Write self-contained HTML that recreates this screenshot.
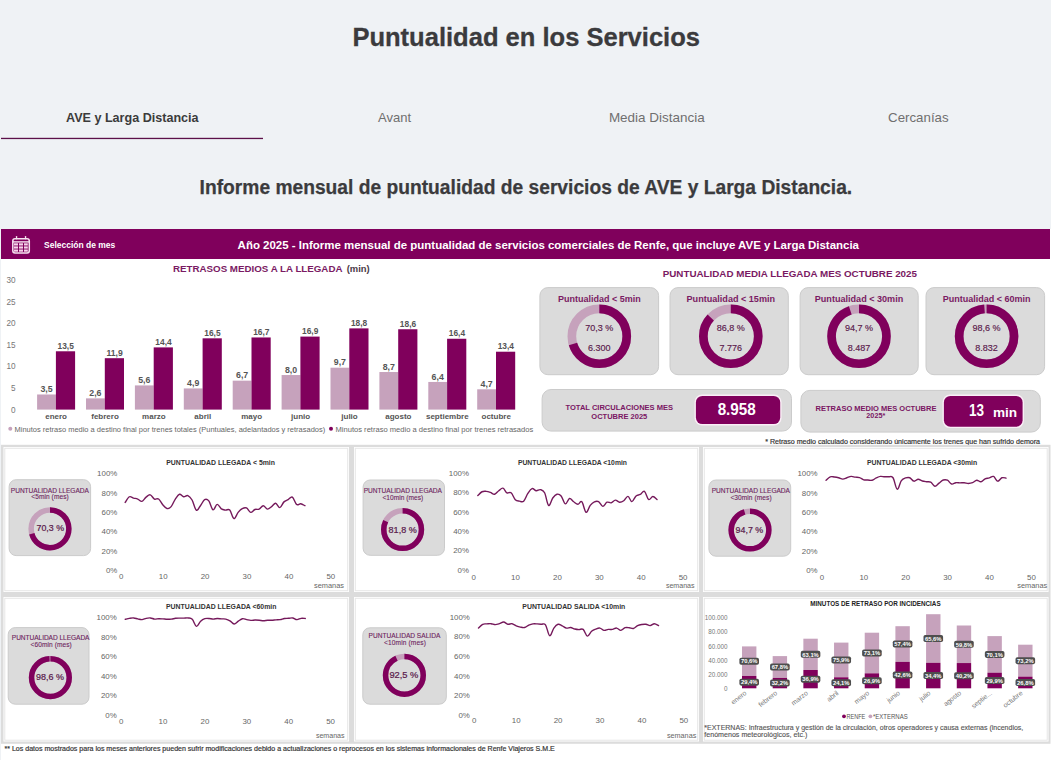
<!DOCTYPE html>
<html><head><meta charset="utf-8"><title>Puntualidad en los Servicios</title>
<style>
html,body{margin:0;padding:0;width:1051px;height:760px;overflow:hidden;background:#eff2f5;}
svg{display:block;font-family:"Liberation Sans", sans-serif;}
</style></head><body>
<svg width="1051" height="760" viewBox="0 0 1051 760" font-family='"Liberation Sans", sans-serif'>
<rect x="0.00" y="0.00" width="1051.00" height="229.00" fill="#eff2f5"/>
<text x="352.40" y="45.80" font-size="26.4" font-weight="bold" fill="#3b3b3d" textLength="347.60" lengthAdjust="spacingAndGlyphs" stroke="#3b3b3d" stroke-width="0.3">Puntualidad en los Servicios</text>
<text x="66.00" y="122.30" font-size="13.5" font-weight="bold" fill="#3b3b3b" textLength="132.60" lengthAdjust="spacingAndGlyphs">AVE y Larga Distancia</text>
<text x="378.00" y="122.00" font-size="13.3" fill="#6f6f6f" textLength="33.10" lengthAdjust="spacingAndGlyphs">Avant</text>
<text x="608.90" y="122.00" font-size="13.3" fill="#6f6f6f" textLength="95.90" lengthAdjust="spacingAndGlyphs">Media Distancia</text>
<text x="888.10" y="122.00" font-size="13.3" fill="#6f6f6f" textLength="60.50" lengthAdjust="spacingAndGlyphs">Cercanías</text>
<rect x="1.00" y="137.80" width="262.00" height="1.30" fill="#5c1049"/>
<text x="199.60" y="193.60" font-size="20" font-weight="bold" fill="#3b3b3d" textLength="652.60" lengthAdjust="spacingAndGlyphs" stroke="#3b3b3d" stroke-width="0.25">Informe mensual de puntualidad de servicios de AVE y Larga Distancia.</text>
<rect x="1.00" y="229.00" width="1050.00" height="531.00" fill="#ffffff"/>
<rect x="1.00" y="229.00" width="1049.00" height="30.00" fill="#80005c"/>
<rect x="12.8" y="238.8" width="16.5" height="14.2" rx="2.2" fill="none" stroke="#f6e4f0" stroke-width="1.5"/>
<rect x="15.9" y="235.9" width="1.3" height="3.4" rx="0.6" fill="#f6e4f0"/><rect x="24.9" y="235.9" width="1.3" height="3.4" rx="0.6" fill="#f6e4f0"/>
<rect x="13" y="241.2" width="16" height="1.4" fill="#f6e4f0"/>
<rect x="14" y="243.30" width="4" height="2.2" fill="#f6d3ea"/>
<rect x="19" y="243.30" width="4" height="2.2" fill="#f6d3ea"/>
<rect x="24" y="243.30" width="3.8" height="2.2" fill="#f6d3ea"/>
<rect x="14" y="246.40" width="4" height="2.2" fill="#f6d3ea"/>
<rect x="19" y="246.40" width="4" height="2.2" fill="#f6d3ea"/>
<rect x="24" y="246.40" width="3.8" height="2.2" fill="#f6d3ea"/>
<rect x="14" y="249.50" width="4" height="2.2" fill="#f6d3ea"/>
<rect x="19" y="249.50" width="4" height="2.2" fill="#f6d3ea"/>
<rect x="24" y="249.50" width="3.8" height="2.2" fill="#f6d3ea"/>
<text x="44.10" y="247.50" font-size="9" font-weight="bold" fill="#ffffff" textLength="71.10" lengthAdjust="spacingAndGlyphs">Selección de mes</text>
<text x="237.60" y="249.00" font-size="11" font-weight="bold" fill="#ffffff" textLength="621.40" lengthAdjust="spacingAndGlyphs">Año 2025 - Informe mensual de puntualidad de servicios comerciales de Renfe, que incluye AVE y Larga Distancia</text>
<text x="173.00" y="272.10" font-size="9" font-weight="bold" fill="#7a1a63" textLength="169.50" lengthAdjust="spacingAndGlyphs">RETRASOS MEDIOS A LA LLEGADA</text>
<text x="346.70" y="272.10" font-size="9" font-weight="bold" fill="#4a3a46" textLength="23.00" lengthAdjust="spacingAndGlyphs">(min)</text>
<text x="15.60" y="412.50" font-size="8.2" fill="#777" text-anchor="end">0</text>
<text x="15.60" y="390.90" font-size="8.2" fill="#777" text-anchor="end">5</text>
<text x="15.60" y="369.30" font-size="8.2" fill="#777" text-anchor="end">10</text>
<text x="15.60" y="347.70" font-size="8.2" fill="#777" text-anchor="end">15</text>
<text x="15.60" y="326.10" font-size="8.2" fill="#777" text-anchor="end">20</text>
<text x="15.60" y="304.50" font-size="8.2" fill="#777" text-anchor="end">25</text>
<text x="15.60" y="282.90" font-size="8.2" fill="#777" text-anchor="end">30</text>
<rect x="37.10" y="394.48" width="18.80" height="15.12" fill="#c6a2bc"/>
<rect x="55.90" y="351.28" width="19.20" height="58.32" fill="#80005c"/>
<text x="40.40" y="392.08" font-size="8.4" font-weight="bold" fill="#555" textLength="12.20" lengthAdjust="spacingAndGlyphs">3,5</text>
<text x="57.55" y="348.88" font-size="8.4" font-weight="bold" fill="#555" textLength="16.30" lengthAdjust="spacingAndGlyphs">13,5</text>
<text x="56.10" y="418.50" font-size="8" font-weight="bold" fill="#555" text-anchor="middle">enero</text>
<rect x="86.00" y="398.37" width="18.80" height="11.23" fill="#c6a2bc"/>
<rect x="104.80" y="358.19" width="19.20" height="51.41" fill="#80005c"/>
<text x="89.30" y="395.97" font-size="8.4" font-weight="bold" fill="#555" textLength="12.20" lengthAdjust="spacingAndGlyphs">2,6</text>
<text x="106.45" y="355.79" font-size="8.4" font-weight="bold" fill="#555" textLength="16.30" lengthAdjust="spacingAndGlyphs">11,9</text>
<text x="105.00" y="418.50" font-size="8" font-weight="bold" fill="#555" text-anchor="middle">febrero</text>
<rect x="134.90" y="385.41" width="18.80" height="24.19" fill="#c6a2bc"/>
<rect x="153.70" y="347.39" width="19.20" height="62.21" fill="#80005c"/>
<text x="138.20" y="383.01" font-size="8.4" font-weight="bold" fill="#555" textLength="12.20" lengthAdjust="spacingAndGlyphs">5,6</text>
<text x="155.35" y="344.99" font-size="8.4" font-weight="bold" fill="#555" textLength="16.30" lengthAdjust="spacingAndGlyphs">14,4</text>
<text x="153.90" y="418.50" font-size="8" font-weight="bold" fill="#555" text-anchor="middle">marzo</text>
<rect x="183.80" y="388.43" width="18.80" height="21.17" fill="#c6a2bc"/>
<rect x="202.60" y="338.32" width="19.20" height="71.28" fill="#80005c"/>
<text x="187.10" y="386.03" font-size="8.4" font-weight="bold" fill="#555" textLength="12.20" lengthAdjust="spacingAndGlyphs">4,9</text>
<text x="204.25" y="335.92" font-size="8.4" font-weight="bold" fill="#555" textLength="16.30" lengthAdjust="spacingAndGlyphs">16,5</text>
<text x="202.80" y="418.50" font-size="8" font-weight="bold" fill="#555" text-anchor="middle">abril</text>
<rect x="232.70" y="380.66" width="18.80" height="28.94" fill="#c6a2bc"/>
<rect x="251.50" y="337.46" width="19.20" height="72.14" fill="#80005c"/>
<text x="236.00" y="378.26" font-size="8.4" font-weight="bold" fill="#555" textLength="12.20" lengthAdjust="spacingAndGlyphs">6,7</text>
<text x="253.15" y="335.06" font-size="8.4" font-weight="bold" fill="#555" textLength="16.30" lengthAdjust="spacingAndGlyphs">16,7</text>
<text x="251.70" y="418.50" font-size="8" font-weight="bold" fill="#555" text-anchor="middle">mayo</text>
<rect x="281.60" y="375.04" width="18.80" height="34.56" fill="#c6a2bc"/>
<rect x="300.40" y="336.59" width="19.20" height="73.01" fill="#80005c"/>
<text x="284.90" y="372.64" font-size="8.4" font-weight="bold" fill="#555" textLength="12.20" lengthAdjust="spacingAndGlyphs">8,0</text>
<text x="302.05" y="334.19" font-size="8.4" font-weight="bold" fill="#555" textLength="16.30" lengthAdjust="spacingAndGlyphs">16,9</text>
<text x="300.60" y="418.50" font-size="8" font-weight="bold" fill="#555" text-anchor="middle">junio</text>
<rect x="330.50" y="367.70" width="18.80" height="41.90" fill="#c6a2bc"/>
<rect x="349.30" y="328.38" width="19.20" height="81.22" fill="#80005c"/>
<text x="333.80" y="365.30" font-size="8.4" font-weight="bold" fill="#555" textLength="12.20" lengthAdjust="spacingAndGlyphs">9,7</text>
<text x="350.95" y="325.98" font-size="8.4" font-weight="bold" fill="#555" textLength="16.30" lengthAdjust="spacingAndGlyphs">18,8</text>
<text x="349.50" y="418.50" font-size="8" font-weight="bold" fill="#555" text-anchor="middle">julio</text>
<rect x="379.40" y="372.02" width="18.80" height="37.58" fill="#c6a2bc"/>
<rect x="398.20" y="329.25" width="19.20" height="80.35" fill="#80005c"/>
<text x="382.70" y="369.62" font-size="8.4" font-weight="bold" fill="#555" textLength="12.20" lengthAdjust="spacingAndGlyphs">8,7</text>
<text x="399.85" y="326.85" font-size="8.4" font-weight="bold" fill="#555" textLength="16.30" lengthAdjust="spacingAndGlyphs">18,6</text>
<text x="398.40" y="418.50" font-size="8" font-weight="bold" fill="#555" text-anchor="middle">agosto</text>
<rect x="428.30" y="381.95" width="18.80" height="27.65" fill="#c6a2bc"/>
<rect x="447.10" y="338.75" width="19.20" height="70.85" fill="#80005c"/>
<text x="431.60" y="379.55" font-size="8.4" font-weight="bold" fill="#555" textLength="12.20" lengthAdjust="spacingAndGlyphs">6,4</text>
<text x="448.75" y="336.35" font-size="8.4" font-weight="bold" fill="#555" textLength="16.30" lengthAdjust="spacingAndGlyphs">16,4</text>
<text x="447.30" y="418.50" font-size="8" font-weight="bold" fill="#555" text-anchor="middle">septiembre</text>
<rect x="477.20" y="389.30" width="18.80" height="20.30" fill="#c6a2bc"/>
<rect x="496.00" y="351.71" width="19.20" height="57.89" fill="#80005c"/>
<text x="480.50" y="386.90" font-size="8.4" font-weight="bold" fill="#555" textLength="12.20" lengthAdjust="spacingAndGlyphs">4,7</text>
<text x="497.65" y="349.31" font-size="8.4" font-weight="bold" fill="#555" textLength="16.30" lengthAdjust="spacingAndGlyphs">13,4</text>
<text x="496.20" y="418.50" font-size="8" font-weight="bold" fill="#555" text-anchor="middle">octubre</text>
<circle cx="10.3" cy="428.8" r="2" fill="#c6a2bc"/>
<text x="14.50" y="431.60" font-size="7.6" fill="#666" textLength="310.70" lengthAdjust="spacingAndGlyphs">Minutos retraso medio a destino final por trenes totales (Puntuales, adelantados y retrasados)</text>
<circle cx="331" cy="428.8" r="2" fill="#80005c"/>
<text x="335.50" y="431.60" font-size="7.6" fill="#666" textLength="197.80" lengthAdjust="spacingAndGlyphs">Minutos retraso medio a destino final por trenes retrasados</text>
<text x="662.70" y="277.10" font-size="9.8" font-weight="bold" fill="#7a1a63" textLength="254.30" lengthAdjust="spacingAndGlyphs">PUNTUALIDAD MEDIA LLEGADA MES OCTUBRE 2025</text>
<rect x="539.90" y="287.60" width="118.70" height="87.10" rx="8" fill="#dbdbdb" stroke="#cbcbcb" stroke-width="1"/>
<text x="557.95" y="301.90" font-size="9" font-weight="bold" fill="#7a1a63" textLength="82.70" lengthAdjust="spacingAndGlyphs">Puntualidad &lt; 5min</text>
<circle cx="599.3" cy="336.3" r="27.45" fill="none" stroke="#c6a2bc" stroke-width="8.70"/>
<circle cx="599.3" cy="336.3" r="27.45" fill="none" stroke="#80005c" stroke-width="8.70" stroke-dasharray="121.25 172.47" transform="rotate(-90 599.3 336.3)"/>
<text x="585.25" y="330.70" font-size="8.6" fill="#5a1a4c" textLength="28.10" lengthAdjust="spacingAndGlyphs" stroke="#5a1a4c" stroke-width="0.15">70,3 %</text>
<text x="588.05" y="350.50" font-size="8.6" fill="#5a1a4c" textLength="22.50" lengthAdjust="spacingAndGlyphs" stroke="#5a1a4c" stroke-width="0.15">6.300</text>
<rect x="670.00" y="287.60" width="118.30" height="87.10" rx="8" fill="#dbdbdb" stroke="#cbcbcb" stroke-width="1"/>
<text x="686.55" y="301.90" font-size="9" font-weight="bold" fill="#7a1a63" textLength="88.50" lengthAdjust="spacingAndGlyphs">Puntualidad &lt; 15min</text>
<circle cx="730.8" cy="336.3" r="27.45" fill="none" stroke="#c6a2bc" stroke-width="8.70"/>
<circle cx="730.8" cy="336.3" r="27.45" fill="none" stroke="#80005c" stroke-width="8.70" stroke-dasharray="149.71 172.47" transform="rotate(-90 730.8 336.3)"/>
<text x="716.75" y="330.70" font-size="8.6" fill="#5a1a4c" textLength="28.10" lengthAdjust="spacingAndGlyphs" stroke="#5a1a4c" stroke-width="0.15">86,8 %</text>
<text x="719.55" y="350.50" font-size="8.6" fill="#5a1a4c" textLength="22.50" lengthAdjust="spacingAndGlyphs" stroke="#5a1a4c" stroke-width="0.15">7.776</text>
<rect x="800.10" y="287.60" width="118.10" height="87.10" rx="8" fill="#dbdbdb" stroke="#cbcbcb" stroke-width="1"/>
<text x="814.75" y="301.90" font-size="9" font-weight="bold" fill="#7a1a63" textLength="88.50" lengthAdjust="spacingAndGlyphs">Puntualidad &lt; 30min</text>
<circle cx="859" cy="336.3" r="27.45" fill="none" stroke="#c6a2bc" stroke-width="8.70"/>
<circle cx="859" cy="336.3" r="27.45" fill="none" stroke="#80005c" stroke-width="8.70" stroke-dasharray="163.33 172.47" transform="rotate(-90 859 336.3)"/>
<text x="844.95" y="330.70" font-size="8.6" fill="#5a1a4c" textLength="28.10" lengthAdjust="spacingAndGlyphs" stroke="#5a1a4c" stroke-width="0.15">94,7 %</text>
<text x="847.75" y="350.50" font-size="8.6" fill="#5a1a4c" textLength="22.50" lengthAdjust="spacingAndGlyphs" stroke="#5a1a4c" stroke-width="0.15">8.487</text>
<rect x="926.00" y="287.60" width="118.60" height="87.10" rx="8" fill="#dbdbdb" stroke="#cbcbcb" stroke-width="1"/>
<text x="942.65" y="301.90" font-size="9" font-weight="bold" fill="#7a1a63" textLength="87.90" lengthAdjust="spacingAndGlyphs">Puntualidad &lt; 60min</text>
<circle cx="986.6" cy="336.3" r="27.45" fill="none" stroke="#c6a2bc" stroke-width="8.70"/>
<circle cx="986.6" cy="336.3" r="27.45" fill="none" stroke="#80005c" stroke-width="8.70" stroke-dasharray="170.06 172.47" transform="rotate(-90 986.6 336.3)"/>
<text x="972.55" y="330.70" font-size="8.6" fill="#5a1a4c" textLength="28.10" lengthAdjust="spacingAndGlyphs" stroke="#5a1a4c" stroke-width="0.15">98,6 %</text>
<text x="975.35" y="350.50" font-size="8.6" fill="#5a1a4c" textLength="22.50" lengthAdjust="spacingAndGlyphs" stroke="#5a1a4c" stroke-width="0.15">8.832</text>
<rect x="542.10" y="389.50" width="249.40" height="41.60" rx="9" fill="#dbdbdb" stroke="#cbcbcb" stroke-width="1"/>
<rect x="694.50" y="394.50" width="87.10" height="31.00" fill="#fbeef7" rx="7.5"/>
<rect x="695.90" y="395.90" width="84.30" height="28.20" fill="#80005c" rx="6.5"/>
<text x="565.55" y="410.00" font-size="8" font-weight="bold" fill="#7a1663" textLength="107.50" lengthAdjust="spacingAndGlyphs">TOTAL CIRCULACIONES MES</text>
<text x="591.35" y="418.50" font-size="8" font-weight="bold" fill="#7a1663" textLength="55.90" lengthAdjust="spacingAndGlyphs">OCTUBRE 2025</text>
<text x="717.65" y="414.90" font-size="15.8" font-weight="bold" fill="#ffffff" textLength="38.10" lengthAdjust="spacingAndGlyphs">8.958</text>
<rect x="800.90" y="390.40" width="239.40" height="41.70" rx="9" fill="#dbdbdb" stroke="#cbcbcb" stroke-width="1"/>
<rect x="942.50" y="394.50" width="81.50" height="33.60" fill="#fbeef7" rx="7.5"/>
<rect x="943.90" y="395.90" width="78.70" height="30.80" fill="#80005c" rx="6.5"/>
<text x="815.60" y="411.00" font-size="8" font-weight="bold" fill="#7a1663" textLength="120.80" lengthAdjust="spacingAndGlyphs">RETRASO MEDIO MES OCTUBRE</text>
<text x="866.35" y="418.40" font-size="8" font-weight="bold" fill="#7a1663" textLength="18.90" lengthAdjust="spacingAndGlyphs">2025*</text>
<text x="969.10" y="415.80" font-size="16" font-weight="bold" fill="#ffffff" textLength="15.00" lengthAdjust="spacingAndGlyphs">13</text>
<text x="992.90" y="416.80" font-size="13" font-weight="bold" fill="#ffffff" textLength="24.20" lengthAdjust="spacingAndGlyphs">min</text>
<text x="765.30" y="443.90" font-size="6.6" fill="#333" textLength="274.70" lengthAdjust="spacingAndGlyphs" stroke="#333" stroke-width="0.18">* Retraso medio calculado considerando únicamente los trenes que han sufrido demora</text>
<rect x="1.00" y="444.80" width="1049.50" height="299.00" fill="#dcdcdc"/>
<rect x="3.50" y="447.00" width="345.50" height="145.00" fill="#ffffff"/>
<rect x="4.80" y="448.30" width="342.90" height="142.40" fill="none" stroke="#e6e6e6" stroke-width="1"/>
<rect x="354.00" y="447.00" width="345.00" height="145.00" fill="#ffffff"/>
<rect x="355.30" y="448.30" width="342.40" height="142.40" fill="none" stroke="#e6e6e6" stroke-width="1"/>
<rect x="703.00" y="447.00" width="345.50" height="145.00" fill="#ffffff"/>
<rect x="704.30" y="448.30" width="342.90" height="142.40" fill="none" stroke="#e6e6e6" stroke-width="1"/>
<rect x="3.50" y="597.00" width="345.50" height="144.50" fill="#ffffff"/>
<rect x="4.80" y="598.30" width="342.90" height="141.90" fill="none" stroke="#e6e6e6" stroke-width="1"/>
<rect x="354.00" y="597.00" width="345.00" height="144.50" fill="#ffffff"/>
<rect x="355.30" y="598.30" width="342.40" height="141.90" fill="none" stroke="#e6e6e6" stroke-width="1"/>
<rect x="703.00" y="597.00" width="345.50" height="144.50" fill="#ffffff"/>
<rect x="704.30" y="598.30" width="342.90" height="141.90" fill="none" stroke="#e6e6e6" stroke-width="1"/>
<rect x="9.10" y="479.70" width="81.50" height="75.90" rx="7" fill="#dbdbdb" stroke="#cbcbcb" stroke-width="1"/>
<text x="10.80" y="492.90" font-size="6.6" fill="#6e1f60" textLength="78.10" lengthAdjust="spacing" stroke="#6e1f60" stroke-width="0.12">PUNTUALIDAD LLEGADA</text>
<text x="31.30" y="499.40" font-size="6.6" fill="#6e1f60" textLength="37.40" lengthAdjust="spacing" stroke="#6e1f60" stroke-width="0.1">&lt;5min (mes)</text>
<circle cx="50" cy="528.8" r="18.85" fill="none" stroke="#c6a2bc" stroke-width="5.50"/>
<circle cx="50" cy="528.8" r="18.85" fill="none" stroke="#80005c" stroke-width="5.50" stroke-dasharray="83.26 118.44" transform="rotate(-90 50 528.8)"/>
<text x="36.50" y="530.60" font-size="9" fill="#5a1a4c" textLength="27.50" lengthAdjust="spacingAndGlyphs" stroke="#5a1a4c" stroke-width="0.22">70,3 %</text>
<rect x="363.10" y="480.00" width="81.40" height="75.30" rx="7" fill="#dbdbdb" stroke="#cbcbcb" stroke-width="1"/>
<text x="363.70" y="492.90" font-size="6.6" fill="#6e1f60" textLength="78.30" lengthAdjust="spacing" stroke="#6e1f60" stroke-width="0.12">PUNTUALIDAD LLEGADA</text>
<text x="382.40" y="499.60" font-size="6.6" fill="#6e1f60" textLength="40.80" lengthAdjust="spacing" stroke="#6e1f60" stroke-width="0.1">&lt;10min (mes)</text>
<circle cx="402.6" cy="529.5" r="18.85" fill="none" stroke="#c6a2bc" stroke-width="5.50"/>
<circle cx="402.6" cy="529.5" r="18.85" fill="none" stroke="#80005c" stroke-width="5.50" stroke-dasharray="96.88 118.44" transform="rotate(-90 402.6 529.5)"/>
<text x="388.60" y="532.60" font-size="9" fill="#5a1a4c" textLength="28.10" lengthAdjust="spacingAndGlyphs" stroke="#5a1a4c" stroke-width="0.22">81,8 %</text>
<rect x="708.90" y="480.00" width="81.80" height="76.20" rx="7" fill="#dbdbdb" stroke="#cbcbcb" stroke-width="1"/>
<text x="711.70" y="492.90" font-size="6.6" fill="#6e1f60" textLength="78.30" lengthAdjust="spacing" stroke="#6e1f60" stroke-width="0.12">PUNTUALIDAD LLEGADA</text>
<text x="730.40" y="499.60" font-size="6.6" fill="#6e1f60" textLength="41.20" lengthAdjust="spacing" stroke="#6e1f60" stroke-width="0.1">&lt;30min (mes)</text>
<circle cx="750" cy="530" r="18.85" fill="none" stroke="#c6a2bc" stroke-width="5.50"/>
<circle cx="750" cy="530" r="18.85" fill="none" stroke="#80005c" stroke-width="5.50" stroke-dasharray="112.16 118.44" transform="rotate(-90 750 530)"/>
<text x="735.60" y="532.60" font-size="9" fill="#5a1a4c" textLength="27.60" lengthAdjust="spacingAndGlyphs" stroke="#5a1a4c" stroke-width="0.22">94,7 %</text>
<rect x="8.20" y="627.60" width="80.80" height="76.60" rx="7" fill="#dbdbdb" stroke="#cbcbcb" stroke-width="1"/>
<text x="11.80" y="639.50" font-size="6.6" fill="#6e1f60" textLength="77.70" lengthAdjust="spacing" stroke="#6e1f60" stroke-width="0.12">PUNTUALIDAD LLEGADA</text>
<text x="30.60" y="646.70" font-size="6.6" fill="#6e1f60" textLength="41.10" lengthAdjust="spacing" stroke="#6e1f60" stroke-width="0.1">&lt;60min (mes)</text>
<circle cx="50.4" cy="677.6" r="18.85" fill="none" stroke="#c6a2bc" stroke-width="5.50"/>
<circle cx="50.4" cy="677.6" r="18.85" fill="none" stroke="#80005c" stroke-width="5.50" stroke-dasharray="116.78 118.44" transform="rotate(-90 50.4 677.6)"/>
<text x="36.10" y="679.80" font-size="9" fill="#5a1a4c" textLength="27.90" lengthAdjust="spacingAndGlyphs" stroke="#5a1a4c" stroke-width="0.22">98,6 %</text>
<rect x="362.80" y="627.80" width="83.50" height="76.40" rx="7" fill="#dbdbdb" stroke="#cbcbcb" stroke-width="1"/>
<text x="368.60" y="637.80" font-size="6.6" fill="#6e1f60" textLength="71.70" lengthAdjust="spacing" stroke="#6e1f60" stroke-width="0.12">PUNTUALIDAD SALIDA</text>
<text x="384.00" y="644.60" font-size="6.6" fill="#6e1f60" textLength="41.90" lengthAdjust="spacing" stroke="#6e1f60" stroke-width="0.1">&lt;10min (mes)</text>
<circle cx="404.4" cy="675.3" r="18.85" fill="none" stroke="#c6a2bc" stroke-width="5.50"/>
<circle cx="404.4" cy="675.3" r="18.85" fill="none" stroke="#80005c" stroke-width="5.50" stroke-dasharray="109.56 118.44" transform="rotate(-90 404.4 675.3)"/>
<text x="389.40" y="678.10" font-size="9" fill="#5a1a4c" textLength="29.00" lengthAdjust="spacingAndGlyphs" stroke="#5a1a4c" stroke-width="0.22">92,5 %</text>
<text x="117.30" y="476.25" font-size="7.9" fill="#666" text-anchor="end">100%</text>
<text x="117.30" y="495.61" font-size="7.9" fill="#666" text-anchor="end">80%</text>
<text x="117.30" y="514.97" font-size="7.9" fill="#666" text-anchor="end">60%</text>
<text x="117.30" y="534.33" font-size="7.9" fill="#666" text-anchor="end">40%</text>
<text x="117.30" y="553.69" font-size="7.9" fill="#666" text-anchor="end">20%</text>
<text x="117.30" y="573.05" font-size="7.9" fill="#666" text-anchor="end">0%</text>
<text x="121.30" y="579.30" font-size="7.9" fill="#666" text-anchor="middle">0</text>
<text x="163.20" y="579.30" font-size="7.9" fill="#666" text-anchor="middle">10</text>
<text x="205.10" y="579.30" font-size="7.9" fill="#666" text-anchor="middle">20</text>
<text x="247.00" y="579.30" font-size="7.9" fill="#666" text-anchor="middle">30</text>
<text x="288.90" y="579.30" font-size="7.9" fill="#666" text-anchor="middle">40</text>
<text x="330.80" y="579.30" font-size="7.9" fill="#666" text-anchor="middle">50</text>
<text x="314.00" y="588.30" font-size="7" fill="#666" textLength="30.00" lengthAdjust="spacingAndGlyphs">semanas</text>
<text x="166.20" y="464.90" font-size="6.5" font-weight="bold" fill="#333" textLength="108.80" lengthAdjust="spacingAndGlyphs">PUNTUALIDAD LLEGADA &lt; 5min</text>
<path d="M125.18,502.45 C125.93,501.43 127.84,497.53 129.35,496.75 C130.85,495.96 132.03,497.67 133.53,498.08 C135.04,498.49 136.21,498.45 137.72,499.03 C139.23,499.61 140.40,501.66 141.91,501.31 C143.41,500.97 144.57,498.29 146.08,497.13 C147.58,495.96 148.75,494.50 150.26,494.84 C151.77,495.19 152.94,498.28 154.45,499.03 C155.95,499.78 157.11,498.00 158.62,499.03 C160.12,500.06 161.29,503.03 162.80,504.74 C164.31,506.45 165.48,508.20 166.99,508.54 C168.49,508.89 169.66,508.35 171.16,506.64 C172.66,504.93 173.82,501.26 175.32,499.03 C176.83,496.80 178.00,494.68 179.51,494.27 C181.02,493.86 182.19,496.51 183.70,496.75 C185.20,496.99 186.38,495.02 187.88,495.60 C189.39,496.19 190.56,497.38 192.07,499.98 C193.58,502.58 194.75,509.04 196.26,510.07 C197.76,511.09 198.94,507.57 200.44,505.69 C201.95,503.81 203.12,500.46 204.63,499.60 C206.14,498.74 207.31,499.08 208.82,500.93 C210.32,502.78 211.49,509.26 213.00,509.88 C214.51,510.49 215.68,504.53 217.19,504.36 C218.70,504.19 219.87,507.90 221.37,508.92 C222.88,509.95 224.05,509.86 225.56,510.07 C227.07,510.27 228.24,508.53 229.75,510.07 C231.25,511.61 232.43,518.22 233.93,518.63 C235.44,519.04 236.61,514.17 238.12,512.35 C239.63,510.53 240.80,509.33 242.31,508.54 C243.81,507.76 244.99,507.29 246.49,507.97 C248.00,508.66 249.17,512.08 250.68,512.35 C252.19,512.62 253.36,510.08 254.87,509.50 C256.37,508.91 257.55,509.80 259.05,509.12 C260.56,508.43 261.73,505.69 263.24,505.69 C264.75,505.69 265.92,508.94 267.43,509.12 C268.93,509.29 270.14,507.70 271.61,506.64 C273.09,505.58 274.14,503.04 275.61,503.22 C277.08,503.39 278.29,507.83 279.80,507.59 C281.30,507.35 282.47,503.32 283.98,501.88 C285.49,500.45 286.66,500.46 288.17,499.60 C289.68,498.74 290.85,496.27 292.35,497.13 C293.86,497.98 295.03,503.16 296.54,504.36 C298.05,505.56 299.22,503.55 300.73,503.79 C302.24,504.03 304.16,505.35 304.91,505.69" fill="none" stroke="#75195b" stroke-width="1.4" stroke-linejoin="round" stroke-linecap="round"/>
<text x="469.00" y="476.05" font-size="7.9" fill="#666" text-anchor="end">100%</text>
<text x="469.00" y="495.41" font-size="7.9" fill="#666" text-anchor="end">80%</text>
<text x="469.00" y="514.77" font-size="7.9" fill="#666" text-anchor="end">60%</text>
<text x="469.00" y="534.13" font-size="7.9" fill="#666" text-anchor="end">40%</text>
<text x="469.00" y="553.49" font-size="7.9" fill="#666" text-anchor="end">20%</text>
<text x="469.00" y="572.85" font-size="7.9" fill="#666" text-anchor="end">0%</text>
<text x="473.60" y="580.20" font-size="7.9" fill="#666" text-anchor="middle">0</text>
<text x="515.50" y="580.20" font-size="7.9" fill="#666" text-anchor="middle">10</text>
<text x="557.40" y="580.20" font-size="7.9" fill="#666" text-anchor="middle">20</text>
<text x="599.30" y="580.20" font-size="7.9" fill="#666" text-anchor="middle">30</text>
<text x="641.20" y="580.20" font-size="7.9" fill="#666" text-anchor="middle">40</text>
<text x="683.10" y="580.20" font-size="7.9" fill="#666" text-anchor="middle">50</text>
<text x="665.90" y="588.40" font-size="7" fill="#666" textLength="28.70" lengthAdjust="spacingAndGlyphs">semanas</text>
<text x="517.90" y="465.30" font-size="6.5" font-weight="bold" fill="#333" textLength="109.10" lengthAdjust="spacingAndGlyphs">PUNTUALIDAD LLEGADA &lt;10min</text>
<path d="M477.82,495.51 C478.57,494.84 480.50,492.50 482.00,491.75 C483.51,490.99 484.68,491.22 486.19,491.33 C487.70,491.44 488.87,491.85 490.38,492.37 C491.89,492.90 493.06,494.56 494.56,494.26 C496.07,493.96 497.24,491.79 498.75,490.70 C500.26,489.61 501.47,487.81 502.94,488.19 C504.41,488.56 505.45,491.96 506.92,492.79 C508.38,493.62 509.59,491.55 511.10,492.79 C512.61,494.04 513.78,498.19 515.29,499.70 C516.80,501.21 517.97,500.90 519.48,501.17 C520.98,501.43 522.16,502.56 523.66,501.17 C525.17,499.77 526.34,495.68 527.85,493.42 C529.36,491.16 530.53,489.10 532.04,488.61 C533.54,488.12 534.72,490.51 536.22,490.70 C537.73,490.89 538.90,489.28 540.41,489.65 C541.92,490.03 543.13,489.97 544.60,492.79 C546.07,495.62 547.10,504.41 548.57,505.35 C550.04,506.30 551.25,500.02 552.76,498.03 C554.27,496.03 555.44,494.64 556.95,494.26 C558.45,493.88 559.63,494.20 561.13,495.93 C562.64,497.67 563.81,503.44 565.32,503.89 C566.83,504.34 568.00,498.82 569.51,498.45 C571.01,498.07 572.19,500.74 573.69,501.80 C575.20,502.85 576.41,504.31 577.88,504.31 C579.35,504.31 580.39,500.36 581.86,501.80 C583.33,503.23 584.54,511.62 586.04,512.26 C587.55,512.90 588.72,507.24 590.23,505.35 C591.74,503.47 592.91,502.47 594.42,501.80 C595.93,501.12 597.10,500.76 598.60,501.59 C600.11,502.41 601.28,506.29 602.79,506.40 C604.30,506.51 605.47,502.85 606.98,502.21 C608.49,501.57 609.66,503.22 611.16,502.84 C612.67,502.46 613.84,500.23 615.35,500.12 C616.86,500.01 618.03,502.10 619.54,502.21 C621.05,502.33 622.22,501.80 623.73,500.75 C625.23,499.69 626.44,496.20 627.91,496.35 C629.38,496.50 630.42,501.66 631.89,501.59 C633.36,501.51 634.57,497.21 636.08,495.93 C637.58,494.65 638.76,495.30 640.26,494.47 C641.77,493.64 642.94,490.42 644.45,491.33 C645.96,492.23 647.13,498.55 648.64,499.49 C650.14,500.43 651.32,496.56 652.82,496.56 C654.33,496.56 656.26,498.96 657.01,499.49" fill="none" stroke="#75195b" stroke-width="1.4" stroke-linejoin="round" stroke-linecap="round"/>
<text x="817.60" y="476.25" font-size="7.9" fill="#666" text-anchor="end">100%</text>
<text x="817.60" y="495.63" font-size="7.9" fill="#666" text-anchor="end">80%</text>
<text x="817.60" y="515.01" font-size="7.9" fill="#666" text-anchor="end">60%</text>
<text x="817.60" y="534.39" font-size="7.9" fill="#666" text-anchor="end">40%</text>
<text x="817.60" y="553.77" font-size="7.9" fill="#666" text-anchor="end">20%</text>
<text x="817.60" y="573.15" font-size="7.9" fill="#666" text-anchor="end">0%</text>
<text x="821.90" y="580.00" font-size="7.9" fill="#666" text-anchor="middle">0</text>
<text x="863.80" y="580.00" font-size="7.9" fill="#666" text-anchor="middle">10</text>
<text x="905.70" y="580.00" font-size="7.9" fill="#666" text-anchor="middle">20</text>
<text x="947.60" y="580.00" font-size="7.9" fill="#666" text-anchor="middle">30</text>
<text x="989.50" y="580.00" font-size="7.9" fill="#666" text-anchor="middle">40</text>
<text x="1031.40" y="580.00" font-size="7.9" fill="#666" text-anchor="middle">50</text>
<text x="1017.30" y="588.40" font-size="7" fill="#666" textLength="30.00" lengthAdjust="spacingAndGlyphs">semanas</text>
<text x="867.00" y="465.00" font-size="6.5" font-weight="bold" fill="#333" textLength="110.20" lengthAdjust="spacingAndGlyphs">PUNTUALIDAD LLEGADA &lt;30min</text>
<path d="M826.04,480.22 C826.79,479.61 828.72,477.38 830.22,476.80 C831.73,476.22 832.90,476.82 834.41,476.99 C835.92,477.16 837.09,477.37 838.60,477.75 C840.10,478.13 841.28,479.08 842.78,479.08 C844.29,479.08 845.46,478.23 846.97,477.75 C848.48,477.27 849.65,476.52 851.16,476.42 C852.66,476.31 853.84,476.97 855.34,477.18 C856.85,477.38 858.02,477.08 859.53,477.56 C861.04,478.04 862.21,479.40 863.72,479.84 C865.22,480.29 866.39,479.96 867.90,480.03 C869.41,480.10 870.58,480.60 872.09,480.22 C873.60,479.85 874.77,478.63 876.27,477.94 C877.78,477.25 878.95,476.62 880.46,476.42 C881.97,476.21 883.14,476.73 884.65,476.80 C886.16,476.87 887.33,476.63 888.83,476.80 C890.34,476.97 891.51,475.52 893.02,477.75 C894.53,479.98 895.70,488.65 897.21,489.17 C898.71,489.68 899.89,482.63 901.39,480.60 C902.90,478.58 904.07,478.45 905.58,477.94 C907.09,477.43 908.26,477.17 909.77,477.75 C911.27,478.33 912.45,480.90 913.95,481.18 C915.46,481.45 916.63,479.31 918.14,479.27 C919.65,479.24 920.82,480.54 922.33,480.98 C923.83,481.43 925.01,481.54 926.51,481.75 C928.02,481.95 929.19,481.30 930.70,482.13 C932.21,482.95 933.38,486.14 934.89,486.31 C936.39,486.48 937.57,484.21 939.07,483.08 C940.58,481.95 941.75,480.55 943.26,480.03 C944.77,479.52 945.94,479.50 947.45,480.22 C948.95,480.94 950.12,483.58 951.63,484.03 C953.14,484.47 954.31,482.90 955.82,482.70 C957.33,482.49 958.50,482.89 960.00,482.89 C961.51,482.89 962.68,482.59 964.19,482.70 C965.70,482.80 966.87,483.46 968.38,483.46 C969.88,483.46 971.06,483.28 972.56,482.70 C974.07,482.12 975.24,480.39 976.75,480.22 C978.26,480.05 979.43,481.99 980.94,481.75 C982.44,481.51 983.62,479.58 985.12,478.89 C986.63,478.21 987.80,478.39 989.31,477.94 C990.82,477.49 991.99,475.84 993.50,476.42 C995.00,477.00 996.18,480.94 997.68,481.18 C999.19,481.41 1000.36,478.30 1001.87,477.75 C1003.38,477.20 1005.30,478.06 1006.06,478.13" fill="none" stroke="#75195b" stroke-width="1.4" stroke-linejoin="round" stroke-linecap="round"/>
<text x="116.70" y="620.10" font-size="7.9" fill="#666" text-anchor="end">100%</text>
<text x="116.70" y="639.68" font-size="7.9" fill="#666" text-anchor="end">80%</text>
<text x="116.70" y="659.26" font-size="7.9" fill="#666" text-anchor="end">60%</text>
<text x="116.70" y="678.84" font-size="7.9" fill="#666" text-anchor="end">40%</text>
<text x="116.70" y="698.42" font-size="7.9" fill="#666" text-anchor="end">20%</text>
<text x="116.70" y="718.00" font-size="7.9" fill="#666" text-anchor="end">0%</text>
<text x="121.10" y="723.70" font-size="7.9" fill="#666" text-anchor="middle">0</text>
<text x="163.00" y="723.70" font-size="7.9" fill="#666" text-anchor="middle">10</text>
<text x="204.90" y="723.70" font-size="7.9" fill="#666" text-anchor="middle">20</text>
<text x="246.80" y="723.70" font-size="7.9" fill="#666" text-anchor="middle">30</text>
<text x="288.70" y="723.70" font-size="7.9" fill="#666" text-anchor="middle">40</text>
<text x="330.60" y="723.70" font-size="7.9" fill="#666" text-anchor="middle">50</text>
<text x="315.90" y="738.30" font-size="7" fill="#666" textLength="28.70" lengthAdjust="spacingAndGlyphs">semanas</text>
<text x="166.00" y="608.60" font-size="6.5" font-weight="bold" fill="#333" textLength="110.40" lengthAdjust="spacingAndGlyphs">PUNTUALIDAD LLEGADA &lt;60min</text>
<path d="M125.28,619.27 C126.03,619.10 127.96,618.56 129.46,618.32 C130.97,618.08 132.14,617.84 133.65,617.94 C135.16,618.04 136.33,618.58 137.84,618.89 C139.34,619.20 140.51,619.76 142.02,619.65 C143.53,619.55 144.70,618.63 146.21,618.32 C147.72,618.01 148.89,617.80 150.39,617.94 C151.90,618.08 153.07,618.94 154.58,619.08 C156.09,619.22 157.26,618.74 158.77,618.70 C160.27,618.67 161.45,618.79 162.95,618.89 C164.46,618.99 165.63,619.24 167.14,619.27 C168.65,619.31 169.82,619.25 171.33,619.08 C172.83,618.91 174.01,618.49 175.51,618.32 C177.02,618.15 178.19,618.16 179.70,618.13 C181.21,618.10 182.38,618.16 183.89,618.13 C185.39,618.10 186.57,617.73 188.07,617.94 C189.58,618.15 190.75,617.76 192.26,619.27 C193.77,620.78 194.94,625.97 196.45,626.31 C197.95,626.66 199.13,622.55 200.63,621.18 C202.14,619.80 203.31,619.18 204.82,618.70 C206.33,618.22 207.50,618.44 209.01,618.51 C210.51,618.58 211.69,619.08 213.19,619.08 C214.70,619.08 215.87,618.55 217.38,618.51 C218.89,618.48 220.06,618.79 221.57,618.89 C223.07,618.99 224.24,618.74 225.75,619.08 C227.26,619.42 228.43,619.90 229.94,620.79 C231.45,621.69 232.62,623.96 234.12,624.03 C235.63,624.10 236.80,622.13 238.31,621.18 C239.82,620.22 240.99,618.98 242.50,618.70 C244.00,618.43 245.18,619.34 246.68,619.65 C248.19,619.96 249.36,620.35 250.87,620.41 C252.38,620.48 253.55,620.07 255.06,620.03 C256.56,620.00 257.74,620.09 259.24,620.22 C260.75,620.36 261.92,620.79 263.43,620.79 C264.94,620.79 266.11,620.33 267.62,620.22 C269.12,620.12 270.30,620.29 271.80,620.22 C273.31,620.16 274.48,619.95 275.99,619.84 C277.50,619.74 278.67,619.89 280.18,619.65 C281.68,619.41 282.86,618.75 284.36,618.51 C285.87,618.27 287.04,618.42 288.55,618.32 C290.06,618.22 291.23,617.70 292.74,617.94 C294.24,618.18 295.41,619.58 296.92,619.65 C298.43,619.72 299.60,618.53 301.11,618.32 C302.62,618.12 304.54,618.48 305.29,618.51" fill="none" stroke="#75195b" stroke-width="1.4" stroke-linejoin="round" stroke-linecap="round"/>
<text x="469.90" y="619.85" font-size="7.9" fill="#666" text-anchor="end">100%</text>
<text x="469.90" y="639.45" font-size="7.9" fill="#666" text-anchor="end">80%</text>
<text x="469.90" y="659.05" font-size="7.9" fill="#666" text-anchor="end">60%</text>
<text x="469.90" y="678.65" font-size="7.9" fill="#666" text-anchor="end">40%</text>
<text x="469.90" y="698.25" font-size="7.9" fill="#666" text-anchor="end">20%</text>
<text x="469.90" y="717.85" font-size="7.9" fill="#666" text-anchor="end">0%</text>
<text x="474.30" y="723.40" font-size="7.9" fill="#666" text-anchor="middle">0</text>
<text x="516.20" y="723.40" font-size="7.9" fill="#666" text-anchor="middle">10</text>
<text x="558.10" y="723.40" font-size="7.9" fill="#666" text-anchor="middle">20</text>
<text x="600.00" y="723.40" font-size="7.9" fill="#666" text-anchor="middle">30</text>
<text x="641.90" y="723.40" font-size="7.9" fill="#666" text-anchor="middle">40</text>
<text x="683.80" y="723.40" font-size="7.9" fill="#666" text-anchor="middle">50</text>
<text x="666.90" y="738.40" font-size="7" fill="#666" textLength="29.40" lengthAdjust="spacingAndGlyphs">semanas</text>
<text x="522.30" y="608.60" font-size="6.5" font-weight="bold" fill="#333" textLength="103.00" lengthAdjust="spacingAndGlyphs">PUNTUALIDAD SALIDA &lt;10min</text>
<path d="M478.51,628.08 C479.26,627.39 481.19,625.03 482.70,624.27 C484.20,623.52 485.38,623.99 486.88,623.89 C488.39,623.79 489.56,623.56 491.07,623.70 C492.58,623.84 493.75,624.65 495.26,624.65 C496.76,624.65 497.94,624.18 499.44,623.70 C500.95,623.22 502.12,621.89 503.63,621.99 C505.14,622.09 506.31,623.96 507.82,624.27 C509.32,624.58 510.50,623.43 512.00,623.70 C513.51,623.98 514.68,625.18 516.19,625.79 C517.70,626.41 518.87,626.82 520.38,627.13 C521.88,627.43 523.06,627.85 524.56,627.51 C526.07,627.16 527.24,625.87 528.75,625.22 C530.26,624.57 531.43,624.13 532.94,623.89 C534.44,623.65 535.61,623.82 537.12,623.89 C538.63,623.96 539.80,624.10 541.31,624.27 C542.82,624.44 543.99,622.79 545.49,624.84 C547.00,626.90 548.17,635.11 549.68,635.69 C551.19,636.27 552.36,630.13 553.87,628.08 C555.37,626.02 556.55,624.68 558.05,624.27 C559.56,623.86 560.73,625.11 562.24,625.79 C563.75,626.48 564.92,627.77 566.43,628.08 C567.93,628.39 569.11,627.34 570.61,627.51 C572.12,627.68 573.29,628.65 574.80,629.03 C576.31,629.41 577.48,629.53 578.99,629.60 C580.49,629.67 581.67,628.25 583.17,629.41 C584.68,630.57 585.85,635.73 587.36,636.07 C588.87,636.41 590.04,632.58 591.55,631.31 C593.05,630.05 594.23,629.61 595.73,629.03 C597.24,628.45 598.41,627.84 599.92,628.08 C601.43,628.32 602.60,630.12 604.11,630.36 C605.61,630.60 606.78,629.58 608.29,629.41 C609.80,629.24 610.97,629.65 612.48,629.41 C613.99,629.17 615.16,627.91 616.67,628.08 C618.17,628.25 619.34,630.43 620.85,630.36 C622.36,630.29 623.53,628.18 625.04,627.70 C626.55,627.22 627.72,627.56 629.22,627.70 C630.73,627.83 631.90,628.84 633.41,628.46 C634.92,628.08 636.09,626.32 637.60,625.60 C639.10,624.88 640.28,624.70 641.78,624.46 C643.29,624.22 644.46,624.07 645.97,624.27 C647.48,624.48 648.65,625.71 650.16,625.60 C651.66,625.50 652.84,623.70 654.34,623.70 C655.85,623.70 657.78,625.26 658.53,625.60" fill="none" stroke="#75195b" stroke-width="1.4" stroke-linejoin="round" stroke-linecap="round"/>
<text x="810.30" y="605.80" font-size="6.4" font-weight="bold" fill="#222" textLength="130.30" lengthAdjust="spacingAndGlyphs">MINUTOS DE RETRASO POR INCIDENCIAS</text>
<text x="727.40" y="620.10" font-size="6.3" fill="#777" text-anchor="end">100.000</text>
<text x="727.40" y="634.32" font-size="6.3" fill="#777" text-anchor="end">80.000</text>
<text x="727.40" y="648.54" font-size="6.3" fill="#777" text-anchor="end">60.000</text>
<text x="727.40" y="662.76" font-size="6.3" fill="#777" text-anchor="end">40.000</text>
<text x="727.40" y="676.98" font-size="6.3" fill="#777" text-anchor="end">20.000</text>
<text x="727.40" y="691.20" font-size="6.3" fill="#777" text-anchor="end">0</text>
<rect x="742.00" y="646.40" width="14.40" height="29.58" fill="#c6a2bc"/>
<rect x="742.00" y="675.98" width="14.40" height="12.32" fill="#80005c"/>
<rect x="739.40" y="657.69" width="19.60" height="7.00" fill="#4e4e4e" rx="1.8"/>
<text x="740.95" y="663.49" font-size="6.2" font-weight="bold" fill="#ffffff" textLength="16.50" lengthAdjust="spacingAndGlyphs">70,6%</text>
<rect x="739.40" y="678.64" width="19.60" height="7.00" fill="#4e4e4e" rx="1.8"/>
<text x="740.95" y="684.44" font-size="6.2" font-weight="bold" fill="#ffffff" textLength="16.50" lengthAdjust="spacingAndGlyphs">29,4%</text>
<text x="747.00" y="694.00" font-size="6.8" fill="#777" text-anchor="end" transform="rotate(-38 747.00 694.00)">enero</text>
<rect x="772.68" y="656.10" width="14.40" height="21.83" fill="#c6a2bc"/>
<rect x="772.68" y="677.93" width="14.40" height="10.37" fill="#80005c"/>
<rect x="770.08" y="663.52" width="19.60" height="7.00" fill="#4e4e4e" rx="1.8"/>
<text x="771.63" y="669.32" font-size="6.2" font-weight="bold" fill="#ffffff" textLength="16.50" lengthAdjust="spacingAndGlyphs">67,8%</text>
<rect x="770.08" y="679.62" width="19.60" height="7.00" fill="#4e4e4e" rx="1.8"/>
<text x="771.63" y="685.42" font-size="6.2" font-weight="bold" fill="#ffffff" textLength="16.50" lengthAdjust="spacingAndGlyphs">32,2%</text>
<text x="777.68" y="694.00" font-size="6.8" fill="#777" text-anchor="end" transform="rotate(-38 777.68 694.00)">febrero</text>
<rect x="803.36" y="638.70" width="14.40" height="31.30" fill="#c6a2bc"/>
<rect x="803.36" y="670.00" width="14.40" height="18.30" fill="#80005c"/>
<rect x="800.76" y="650.85" width="19.60" height="7.00" fill="#4e4e4e" rx="1.8"/>
<text x="802.31" y="656.65" font-size="6.2" font-weight="bold" fill="#ffffff" textLength="16.50" lengthAdjust="spacingAndGlyphs">63,1%</text>
<rect x="800.76" y="675.65" width="19.60" height="7.00" fill="#4e4e4e" rx="1.8"/>
<text x="802.31" y="681.45" font-size="6.2" font-weight="bold" fill="#ffffff" textLength="16.50" lengthAdjust="spacingAndGlyphs">36,9%</text>
<text x="808.36" y="694.00" font-size="6.8" fill="#777" text-anchor="end" transform="rotate(-38 808.36 694.00)">marzo</text>
<rect x="834.04" y="642.60" width="14.40" height="34.69" fill="#c6a2bc"/>
<rect x="834.04" y="677.29" width="14.40" height="11.01" fill="#80005c"/>
<rect x="831.44" y="656.44" width="19.60" height="7.00" fill="#4e4e4e" rx="1.8"/>
<text x="832.99" y="662.24" font-size="6.2" font-weight="bold" fill="#ffffff" textLength="16.50" lengthAdjust="spacingAndGlyphs">75,9%</text>
<rect x="831.44" y="679.29" width="19.60" height="7.00" fill="#4e4e4e" rx="1.8"/>
<text x="832.99" y="685.09" font-size="6.2" font-weight="bold" fill="#ffffff" textLength="16.50" lengthAdjust="spacingAndGlyphs">24,1%</text>
<text x="839.04" y="694.00" font-size="6.8" fill="#777" text-anchor="end" transform="rotate(-38 839.04 694.00)">abril</text>
<rect x="864.72" y="632.70" width="14.40" height="40.64" fill="#c6a2bc"/>
<rect x="864.72" y="673.34" width="14.40" height="14.96" fill="#80005c"/>
<rect x="862.12" y="649.52" width="19.60" height="7.00" fill="#4e4e4e" rx="1.8"/>
<text x="863.67" y="655.32" font-size="6.2" font-weight="bold" fill="#ffffff" textLength="16.50" lengthAdjust="spacingAndGlyphs">73,1%</text>
<rect x="862.12" y="677.32" width="19.60" height="7.00" fill="#4e4e4e" rx="1.8"/>
<text x="863.67" y="683.12" font-size="6.2" font-weight="bold" fill="#ffffff" textLength="16.50" lengthAdjust="spacingAndGlyphs">26,9%</text>
<text x="869.72" y="694.00" font-size="6.8" fill="#777" text-anchor="end" transform="rotate(-38 869.72 694.00)">mayo</text>
<rect x="895.40" y="626.20" width="14.40" height="35.65" fill="#c6a2bc"/>
<rect x="895.40" y="661.85" width="14.40" height="26.45" fill="#80005c"/>
<rect x="892.80" y="640.52" width="19.60" height="7.00" fill="#4e4e4e" rx="1.8"/>
<text x="894.35" y="646.32" font-size="6.2" font-weight="bold" fill="#ffffff" textLength="16.50" lengthAdjust="spacingAndGlyphs">57,4%</text>
<rect x="892.80" y="671.57" width="19.60" height="7.00" fill="#4e4e4e" rx="1.8"/>
<text x="894.35" y="677.37" font-size="6.2" font-weight="bold" fill="#ffffff" textLength="16.50" lengthAdjust="spacingAndGlyphs">42,6%</text>
<text x="900.40" y="694.00" font-size="6.8" fill="#777" text-anchor="end" transform="rotate(-38 900.40 694.00)">junio</text>
<rect x="926.08" y="614.20" width="14.40" height="48.61" fill="#c6a2bc"/>
<rect x="926.08" y="662.81" width="14.40" height="25.49" fill="#80005c"/>
<rect x="923.48" y="635.00" width="19.60" height="7.00" fill="#4e4e4e" rx="1.8"/>
<text x="925.03" y="640.80" font-size="6.2" font-weight="bold" fill="#ffffff" textLength="16.50" lengthAdjust="spacingAndGlyphs">65,6%</text>
<rect x="923.48" y="672.05" width="19.60" height="7.00" fill="#4e4e4e" rx="1.8"/>
<text x="925.03" y="677.85" font-size="6.2" font-weight="bold" fill="#ffffff" textLength="16.50" lengthAdjust="spacingAndGlyphs">34,4%</text>
<text x="931.08" y="694.00" font-size="6.8" fill="#777" text-anchor="end" transform="rotate(-38 931.08 694.00)">julio</text>
<rect x="956.76" y="625.50" width="14.40" height="37.55" fill="#c6a2bc"/>
<rect x="956.76" y="663.05" width="14.40" height="25.25" fill="#80005c"/>
<rect x="954.16" y="640.78" width="19.60" height="7.00" fill="#4e4e4e" rx="1.8"/>
<text x="955.71" y="646.58" font-size="6.2" font-weight="bold" fill="#ffffff" textLength="16.50" lengthAdjust="spacingAndGlyphs">59,8%</text>
<rect x="954.16" y="672.18" width="19.60" height="7.00" fill="#4e4e4e" rx="1.8"/>
<text x="955.71" y="677.98" font-size="6.2" font-weight="bold" fill="#ffffff" textLength="16.50" lengthAdjust="spacingAndGlyphs">40,2%</text>
<text x="961.76" y="694.00" font-size="6.8" fill="#777" text-anchor="end" transform="rotate(-38 961.76 694.00)">agosto</text>
<rect x="987.44" y="636.10" width="14.40" height="36.59" fill="#c6a2bc"/>
<rect x="987.44" y="672.69" width="14.40" height="15.61" fill="#80005c"/>
<rect x="984.84" y="650.90" width="19.60" height="7.00" fill="#4e4e4e" rx="1.8"/>
<text x="986.39" y="656.70" font-size="6.2" font-weight="bold" fill="#ffffff" textLength="16.50" lengthAdjust="spacingAndGlyphs">70,1%</text>
<rect x="984.84" y="677.00" width="19.60" height="7.00" fill="#4e4e4e" rx="1.8"/>
<text x="986.39" y="682.80" font-size="6.2" font-weight="bold" fill="#ffffff" textLength="16.50" lengthAdjust="spacingAndGlyphs">29,9%</text>
<text x="992.44" y="694.00" font-size="6.8" fill="#777" text-anchor="end" transform="rotate(-38 992.44 694.00)">septie...</text>
<rect x="1018.12" y="644.70" width="14.40" height="31.92" fill="#c6a2bc"/>
<rect x="1018.12" y="676.62" width="14.40" height="11.68" fill="#80005c"/>
<rect x="1015.52" y="657.16" width="19.60" height="7.00" fill="#4e4e4e" rx="1.8"/>
<text x="1017.07" y="662.96" font-size="6.2" font-weight="bold" fill="#ffffff" textLength="16.50" lengthAdjust="spacingAndGlyphs">73,2%</text>
<rect x="1015.52" y="678.96" width="19.60" height="7.00" fill="#4e4e4e" rx="1.8"/>
<text x="1017.07" y="684.76" font-size="6.2" font-weight="bold" fill="#ffffff" textLength="16.50" lengthAdjust="spacingAndGlyphs">26,8%</text>
<text x="1023.12" y="694.00" font-size="6.8" fill="#777" text-anchor="end" transform="rotate(-38 1023.12 694.00)">octubre</text>
<circle cx="844" cy="716.3" r="1.9" fill="#80005c"/>
<text x="846.40" y="718.50" font-size="6.6" fill="#555" textLength="18.90" lengthAdjust="spacingAndGlyphs">RENFE</text>
<circle cx="870.4" cy="716.3" r="1.9" fill="#c6a2bc"/>
<text x="873.00" y="718.50" font-size="6.6" fill="#555" textLength="34.70" lengthAdjust="spacingAndGlyphs">*EXTERNAS</text>
<text x="704.30" y="730.40" font-size="6.6" fill="#555" textLength="319.00" lengthAdjust="spacingAndGlyphs" stroke="#555" stroke-width="0.12">*EXTERNAS: Infraestructura y gestión de la circulación, otros operadores y causa externas (incendios,</text>
<text x="704.30" y="737.40" font-size="6.6" fill="#555" textLength="103.00" lengthAdjust="spacingAndGlyphs" stroke="#555" stroke-width="0.12">fenómenos meteorológicos, etc.)</text>
<text x="4.50" y="750.70" font-size="6.5" fill="#333" textLength="550.30" lengthAdjust="spacingAndGlyphs" stroke="#333" stroke-width="0.18">** Los datos mostrados para los meses anteriores pueden sufrir modificaciones debido a actualizaciones o reprocesos en los sistemas informacionales de Renfe Viajeros S.M.E</text>
</svg>
</body></html>
